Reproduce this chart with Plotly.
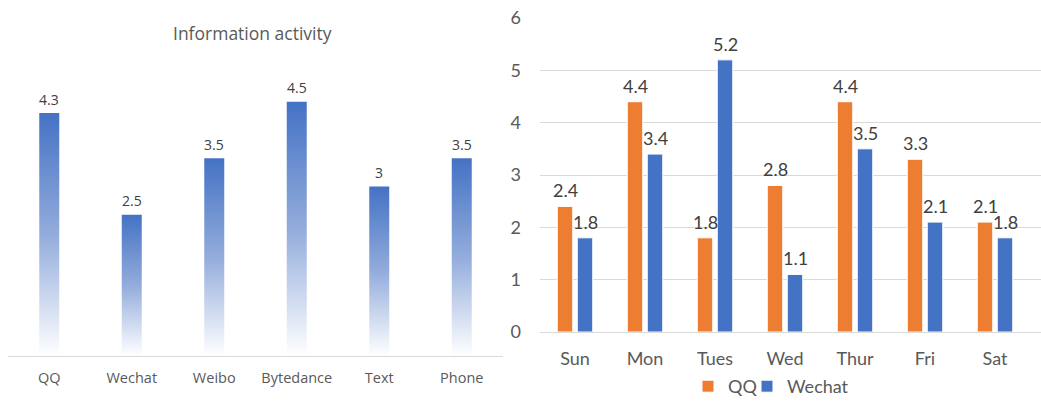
import plotly.graph_objects as go

# ---- Left chart data ----
apps = ["QQ", "Wechat", "Weibo", "Bytedance", "Text", "Phone"]
activity = [4.3, 2.5, 3.5, 4.5, 3, 3.5]

# ---- Right chart data ----
days = ["Sun", "Mon", "Tues", "Wed", "Thur", "Fri", "Sat"]
qq_vals = [2.4, 4.4, 1.8, 2.8, 4.4, 3.3, 2.1]
wechat_vals = [1.8, 3.4, 5.2, 1.1, 3.5, 2.1, 1.8]

W, H = 1041, 405
BLUE = "#4472C4"
ORANGE = "#ED7D31"
LEFT_FONT = "Open Sans"
RIGHT_FONT = "Lato"


def px_x(p):
    return p / W


def px_y(p):
    return (H - p) / H


fig = go.Figure()

# Left chart: gradient-filled bars (white at the base -> blue at the top)
half_w = (20 / 82.5) / 2
for i, (a, v) in enumerate(zip(apps, activity)):
    fig.add_trace(go.Scatter(
        x=[i - half_w, i + half_w], y=[v, v], mode="none", fill="tozeroy",
        fillgradient=dict(type="vertical", colorscale=[[0, "#FFFFFF"], [0.5, "#93ACDC"], [1, BLUE]],
                          start=0, stop=v),
        xaxis="x", yaxis="y", showlegend=False, hoverinfo="skip",
    ))

# Right chart: grouped bars
slot = 70
bar_w = 15.5 / slot
gap = 4.5 / slot
fig.add_trace(go.Bar(
    name="QQ", x=days, y=qq_vals, marker=dict(color=ORANGE, line=dict(color="white", width=1)),
    width=bar_w, offset=-(bar_w + gap / 2),
    xaxis="x2", yaxis="y2", legend="legend",
))
fig.add_trace(go.Bar(
    name="Wechat", x=days, y=wechat_vals, marker=dict(color=BLUE, line=dict(color="white", width=1)),
    width=bar_w, offset=gap / 2,
    xaxis="x2", yaxis="y2", legend="legend2",
))

annotations = [dict(
    text="Information activity", x=px_x(252.5), y=px_y(33), xref="paper", yref="paper",
    xanchor="center", yanchor="middle", showarrow=False,
    font=dict(family=LEFT_FONT, size=17.5, color="#595959"),
)]
# value labels, left chart
for i, v in enumerate(activity):
    annotations.append(dict(
        text=str(v), x=i, y=v, xref="x", yref="y", showarrow=False,
        xanchor="center", yanchor="middle", yshift=14,
        font=dict(family=LEFT_FONT, size=14, color="#404040"),
    ))
# value labels, right chart
shift = (bar_w + gap) / 2 * slot
for d, q, w in zip(days, qq_vals, wechat_vals):
    for val, xs in ((q, -shift), (w, shift)):
        annotations.append(dict(
            text=str(val), x=d, y=val, xref="x2", yref="y2", showarrow=False,
            xanchor="center", yanchor="middle", xshift=xs, yshift=16,
            font=dict(family=RIGHT_FONT, size=18, color="#404040"),
        ))

legend_style = dict(
    orientation="h", y=0, yanchor="bottom", xanchor="left",
    font=dict(family=RIGHT_FONT, size=18, color="#595959"),
    itemwidth=30, bgcolor="rgba(0,0,0,0)",
)

fig.update_layout(
    template="none",
    width=W, height=H, autosize=False,
    margin=dict(l=0, r=0, t=0, b=0, pad=0),
    paper_bgcolor="white", plot_bgcolor="white",
    barmode="overlay",
    xaxis=dict(
        domain=[px_x(8), px_x(503)], range=[-0.5, len(apps) - 0.5], automargin=False,
        tickmode="array", tickvals=list(range(len(apps))), ticktext=apps,
        showline=True, linecolor="#D9D9D9", linewidth=1, showgrid=False, zeroline=False,
        ticks="", tickfont=dict(family=LEFT_FONT, size=14.5, color="#595959"),
        ticklabelstandoff=9, fixedrange=True,
    ),
    yaxis=dict(
        domain=[px_y(356), px_y(56.5)], range=[0, 5.3], visible=False, fixedrange=True,
        automargin=False,
    ),
    xaxis2=dict(
        domain=[px_x(540), 1.0], type="category", categoryorder="array", categoryarray=days,
        range=[-0.5, (W - 540) / 70 - 0.5], automargin=False,
        showline=False, showgrid=False, zeroline=False, ticks="",
        tickfont=dict(family=RIGHT_FONT, size=18, color="#595959"),
        ticklabelstandoff=14, anchor="y2",
    ),
    yaxis2=dict(
        domain=[px_y(332), px_y(18)], range=[0, 6], dtick=1, anchor="x2", automargin=False,
        showgrid=True, gridcolor="#D9D9D9", gridwidth=1,
        zeroline=True, zerolinecolor="#D9D9D9", zerolinewidth=1,
        showline=False, ticks="",
        tickfont=dict(family=RIGHT_FONT, size=18, color="#595959"),
        ticklabelstandoff=18,
    ),
    legend=dict(x=px_x(688), **legend_style),
    legend2=dict(x=px_x(747), **legend_style),
    annotations=annotations,
)

fig.write_html("out.html", config={"displayModeBar": False},
               post_script="document.body.style.margin='0px';")
